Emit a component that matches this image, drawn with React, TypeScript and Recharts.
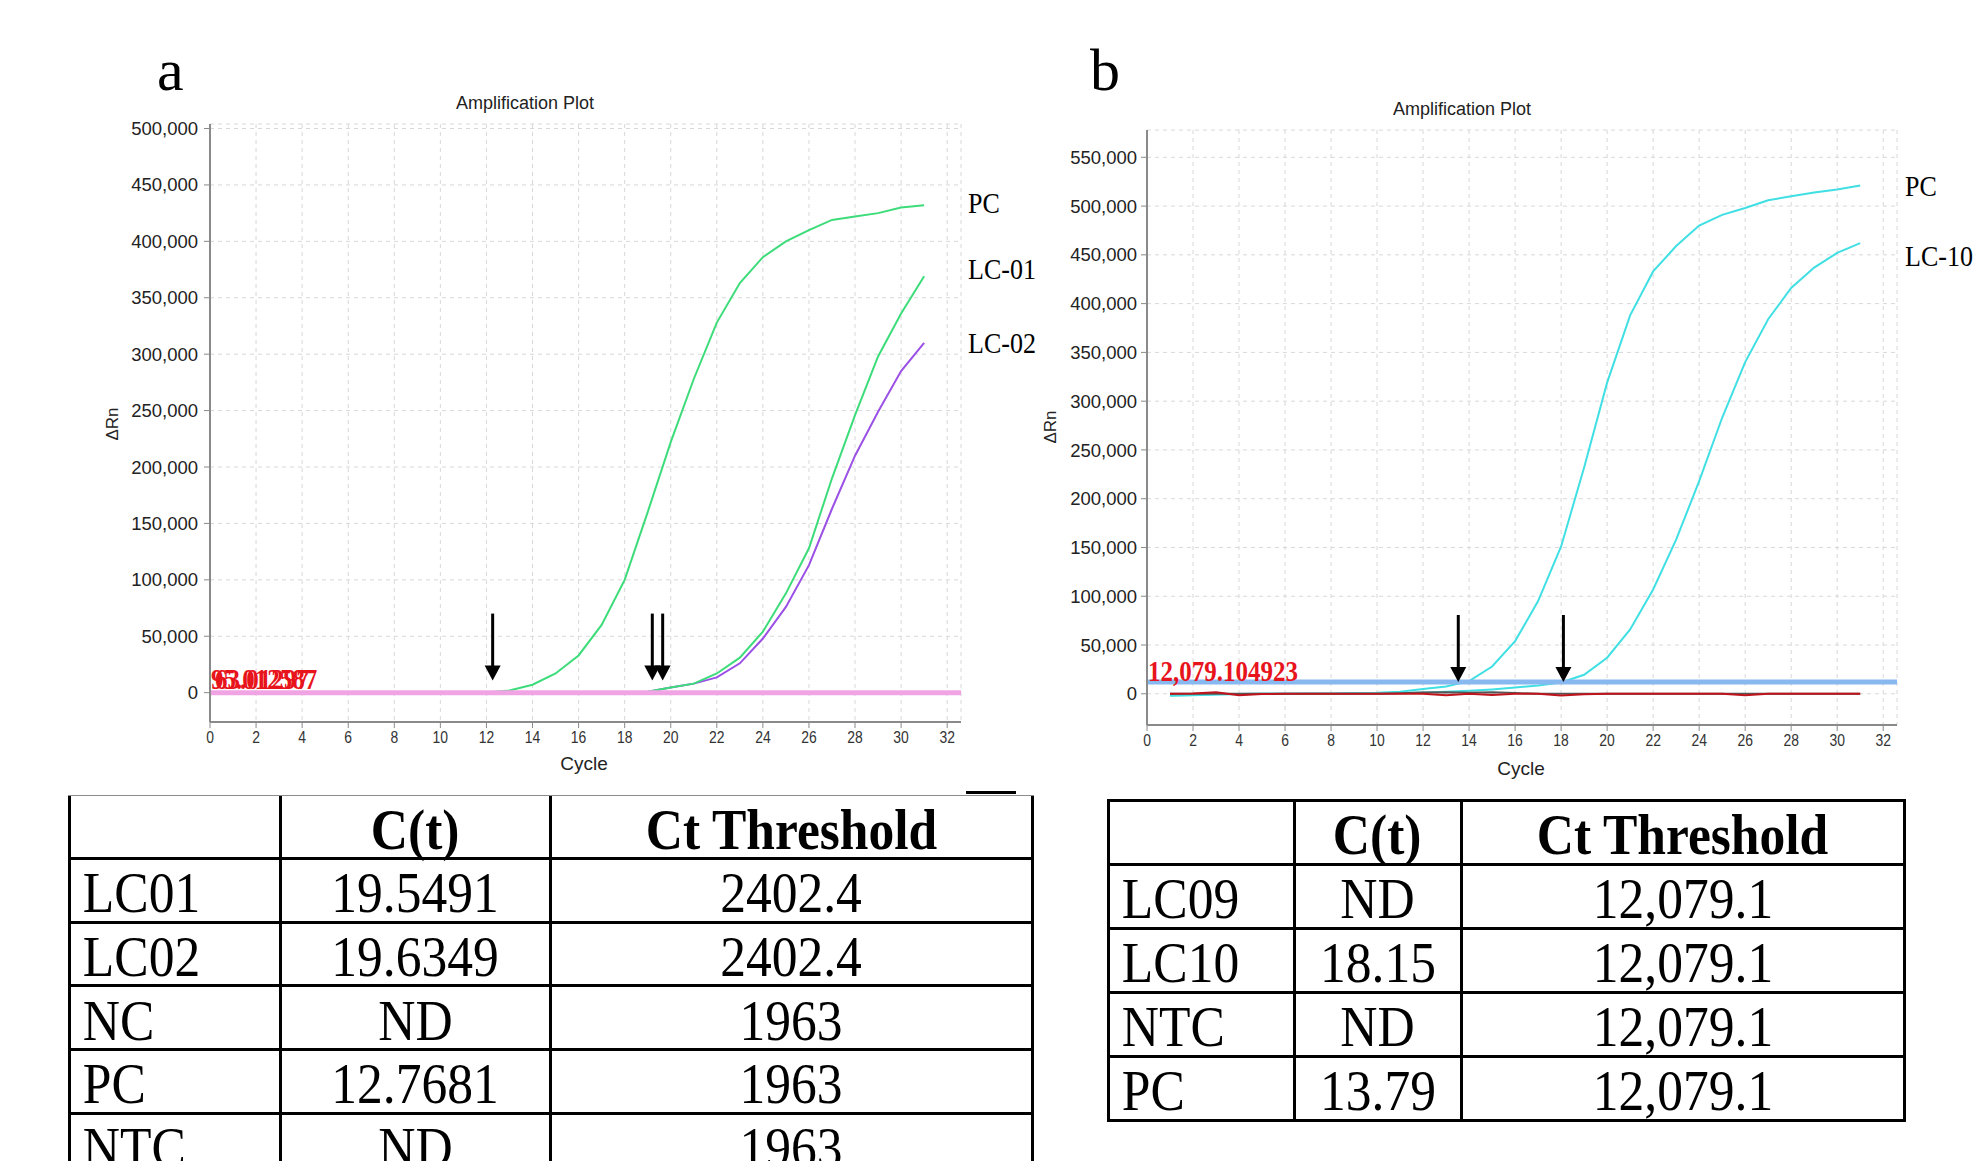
import React from 'react';
import { LineChart, Line, XAxis, YAxis, CartesianGrid, ReferenceLine, ReferenceDot } from 'recharts';

// ---- shared axis values ----
const CYCLES = [1, 2, 3, 4, 5, 6, 7, 8, 9, 10, 11, 12, 13, 14, 15, 16, 17, 18, 19, 20, 21, 22, 23, 24, 25, 26, 27, 28, 29, 30, 31];
const X_TICKS = [0, 2, 4, 6, 8, 10, 12, 14, 16, 18, 20, 22, 24, 26, 28, 30, 32];
const X_DOMAIN = [0, 32.6];

// ---- panel a ----
const A_Y_TICKS = [0, 50000, 100000, 150000, 200000, 250000, 300000, 350000, 400000, 450000, 500000];
const A_Y_DOMAIN = [-26000, 504000];
const PC_A = [0, 0, 0, 0, 0, 0, 0, 0, 0, 0, 0, 200, 2000, 7000, 17000, 33000, 60000, 100000, 160000, 222000, 278000, 328000, 363000, 386000, 400000, 410000, 419000, 422000, 425000, 430000, 432000];
const LC01_A = [0, 0, 0, 0, 0, 0, 0, 0, 0, 0, 0, 0, 0, 0, 0, 0, 0, 0, 800, 4500, 8000, 17000, 31000, 54000, 88000, 128000, 190000, 246000, 298000, 336000, 369000];
const LC02_A = [0, 0, 0, 0, 0, 0, 0, 0, 0, 0, 0, 0, 0, 0, 0, 0, 0, 0, 800, 4500, 8000, 13500, 26000, 48000, 76000, 113000, 163000, 210000, 249000, 285000, 310000];
const THRESHOLD_A = 0;
const THRESHOLD_A_LABELS = ['95.012587', '63.01297'];
const ARROWS_A = [12.27, 19.2, 19.65];
const ARROW_TIP_A = 10700;

// ---- panel b ----
const B_Y_TICKS = [0, 50000, 100000, 150000, 200000, 250000, 300000, 350000, 400000, 450000, 500000, 550000];
const B_Y_DOMAIN = [-32000, 578000];
const PC_B = [-2000, -1500, -800, -300, 0, 0, 200, 400, 700, 1000, 2000, 4800, 7500, 13000, 28000, 54000, 95000, 151000, 232000, 319000, 388000, 433000, 459000, 480000, 491000, 498000, 506000, 510000, 514000, 517000, 521000];
const LC10_B = [-1500, -1200, -600, -200, 0, 0, 0, 100, 200, 400, 700, 1200, 2000, 3000, 4500, 6500, 8500, 11500, 19500, 37000, 66000, 107000, 158000, 218000, 283000, 340000, 384000, 416000, 437000, 452000, 462000];
const NTC_B = [0, 300, 1500, -1500, -300, 0, 0, 0, 0, 0, 0, 0, -1500, 0, -1200, 0, 0, -1800, -600, 0, 0, 0, 0, 0, 0, -1500, 0, 0, 0, 0, 0];
const LC09_B = [0, 0, 0, 0, 0, 0, 0, 0, 0, 0, 500, 1200, 1500, 1000, 1500, 800, 0, 0, 0, 0, 0, 0, 0, 0, 0, 0, 0, 0, 0, 0, 0];
const THRESHOLD_B = 12079.104923;
const THRESHOLD_B_LABELS = ['12,079.104923'];
const ARROWS_B = [13.53, 18.1];

// ---- tables ----
const TABLE_HEADER = ['', 'C(t)', 'Ct Threshold'];
const TABLE_A_ROWS = [
  ['LC01', '19.5491', '2402.4'],
  ['LC02', '19.6349', '2402.4'],
  ['NC', 'ND', '1963'],
  ['PC', '12.7681', '1963'],
  ['NTC', 'ND', '1963'],
];
const TABLE_B_ROWS = [
  ['LC09', 'ND', '12,079.1'],
  ['LC10', '18.15', '12,079.1'],
  ['NTC', 'ND', '12,079.1'],
  ['PC', '13.79', '12,079.1'],
];

const dataA = CYCLES.map((cycle, i) => ({ cycle, pc: PC_A[i], lc01: LC01_A[i], lc02: LC02_A[i] }));
const dataB = CYCLES.map((cycle, i) => ({ cycle, pc: PC_B[i], lc10: LC10_B[i], ntc: NTC_B[i], lc09: LC09_B[i] }));

const SANS = 'Liberation Sans, Arial, sans-serif';
const SERIF = 'Liberation Serif, Times New Roman, serif';
const fmt = (v: number) => v.toLocaleString('en-US');

const XTick = ({ x, y, payload }: any) => (
  <g transform={`translate(${x},${y})`}>
    <text x={0} y={0} dy={13} textAnchor="middle" fontSize={17} fill="#333" fontFamily={SANS} transform="scale(0.82,1)">
      {payload.value}
    </text>
  </g>
);

const Arrow = (props: any) => {
  const { cx, cy } = props;
  if (cx == null || cy == null) return null;
  return (
    <g>
      <line x1={cx} y1={cy - 67} x2={cx} y2={cy - 12} stroke="#000" strokeWidth={3} />
      <polygon points={`${cx - 8},${cy - 15} ${cx + 8},${cy - 15} ${cx},${cy}`} fill="#000" />
    </g>
  );
};

// overlapping red threshold values, as the instrument software prints them
const ThresholdLabel = ({ viewBox, texts, dy, fontSize }: any) => {
  if (!viewBox) return null;
  return (
    <g>
      {texts.map((t: string, i: number) => (
        <text key={i} x={viewBox.x + 1 + i * 4} y={viewBox.y + dy} fontSize={fontSize} fontWeight="bold" fontFamily={SERIF} fill="#e8141c" transform={`translate(${viewBox.x + 1},${viewBox.y + dy}) scale(1,1.15) translate(${-(viewBox.x + 1)},${-(viewBox.y + dy)})`}>
          {t}
        </text>
      ))}
    </g>
  );
};

const frameAxes = (yDomain: number[]) => [
  <XAxis key="top" xAxisId="top" orientation="top" type="number" domain={X_DOMAIN} ticks={[]} tick={false} tickLine={false} height={0} axisLine={{ stroke: '#b8b8b8', strokeWidth: 2 }} />,
  <YAxis key="right" yAxisId="right" orientation="right" type="number" domain={yDomain} ticks={[]} tick={false} tickLine={false} width={0} axisLine={{ stroke: '#b8b8b8', strokeWidth: 2 }} />,
];

function PanelA() {
  return (
    <LineChart width={1000} height={800} data={dataA} margin={{ top: 124, right: 39, bottom: 38, left: 130 }}>
      <CartesianGrid strokeDasharray="4 4" stroke="#d8d8d8" />
      <XAxis dataKey="cycle" type="number" domain={X_DOMAIN} ticks={X_TICKS} allowDataOverflow height={40} tickSize={6} tickMargin={2} tick={<XTick />} axisLine={{ stroke: '#8a8a8a', strokeWidth: 2 }} tickLine={{ stroke: '#8a8a8a' }} />
      <YAxis type="number" domain={A_Y_DOMAIN} ticks={A_Y_TICKS} allowDataOverflow width={80} tickSize={6} tickMargin={6} tickFormatter={fmt} tick={{ fontSize: 18.5, fill: '#222', fontFamily: SANS }} axisLine={{ stroke: '#8a8a8a', strokeWidth: 2 }} tickLine={{ stroke: '#8a8a8a' }} />
      {frameAxes(A_Y_DOMAIN)}
      <Line dataKey="pc" type="linear" stroke="#3ddc7a" strokeWidth={2} dot={false} isAnimationActive={false} />
      <Line dataKey="lc02" type="linear" stroke="#9b50e6" strokeWidth={2} dot={false} isAnimationActive={false} />
      <Line dataKey="lc01" type="linear" stroke="#3ddc7a" strokeWidth={2} dot={false} isAnimationActive={false} />
      <ReferenceLine y={THRESHOLD_A} stroke="#f0a4e4" strokeWidth={5} label={<ThresholdLabel texts={THRESHOLD_A_LABELS} dy={-4} fontSize={25} />} />
      {ARROWS_A.map((x) => (
        <ReferenceDot key={x} x={x} y={ARROW_TIP_A} r={0} ifOverflow="visible" shape={<Arrow />} />
      ))}
    </LineChart>
  );
}

function PanelB() {
  return (
    <LineChart width={977} height={800} data={dataB} margin={{ top: 130, right: 80, bottom: 35, left: 67 }}>
      <CartesianGrid strokeDasharray="4 4" stroke="#d8d8d8" />
      <XAxis dataKey="cycle" type="number" domain={X_DOMAIN} ticks={X_TICKS} allowDataOverflow height={40} tickSize={6} tickMargin={2} tick={<XTick />} axisLine={{ stroke: '#8a8a8a', strokeWidth: 2 }} tickLine={{ stroke: '#8a8a8a' }} />
      <YAxis type="number" domain={B_Y_DOMAIN} ticks={B_Y_TICKS} allowDataOverflow width={80} tickSize={6} tickMargin={4} tickFormatter={fmt} tick={{ fontSize: 18.5, fill: '#222', fontFamily: SANS }} axisLine={{ stroke: '#8a8a8a', strokeWidth: 2 }} tickLine={{ stroke: '#8a8a8a' }} />
      {frameAxes(B_Y_DOMAIN)}
      <Line dataKey="lc10" type="linear" stroke="#40dfe3" strokeWidth={2} dot={false} isAnimationActive={false} />
      <Line dataKey="pc" type="linear" stroke="#40dfe3" strokeWidth={2} dot={false} isAnimationActive={false} />
      <Line dataKey="lc09" type="linear" stroke="#555555" strokeWidth={2} dot={false} isAnimationActive={false} />
      <Line dataKey="ntc" type="linear" stroke="#c0141c" strokeWidth={2} dot={false} isAnimationActive={false} />
      <ReferenceLine y={THRESHOLD_B} stroke="#88b8f0" strokeWidth={5} label={<ThresholdLabel texts={THRESHOLD_B_LABELS} dy={-1} fontSize={25} />} />
      {ARROWS_B.map((x) => (
        <ReferenceDot key={x} x={x} y={THRESHOLD_B} r={0} ifOverflow="visible" shape={<Arrow />} />
      ))}
    </LineChart>
  );
}

function DataTable({ left, top, cols, rowH, rows, topThin }: any) {
  const all = [TABLE_HEADER, ...rows];
  const height = rowH * all.length;
  const lines: any[] = [];
  cols.forEach((cx: number, i: number) => {
    lines.push(<div key={'v' + i} style={{ position: 'absolute', left: cx - 1.5, top: 0, width: 3, height: height + 1.5, background: '#000' }} />);
  });
  for (let k = 0; k <= all.length; k++) {
    const thin = k === 0 && topThin;
    lines.push(
      <div key={'h' + k} style={{ position: 'absolute', left: cols[0] - 1.5, top: k * rowH - (thin ? 0.5 : 1.5), width: cols[cols.length - 1] - cols[0] + 3, height: thin ? 1 : 3, background: thin ? '#8c8c8c' : '#000' }} />
    );
  }
  return (
    <div style={{ position: 'absolute', left, top, width: cols[cols.length - 1], height }}>
      {all.map((r: string[], ri: number) =>
        r.map((t: string, ci: number) => (
          <div key={ri + '-' + ci} style={{ position: 'absolute', left: cols[ci], top: ri * rowH, width: cols[ci + 1] - cols[ci], height: rowH, display: 'flex', alignItems: 'center', justifyContent: ci === 0 ? 'flex-start' : 'center', paddingTop: 6, boxSizing: 'border-box', fontFamily: SERIF, fontSize: 56, fontWeight: ri === 0 ? 'bold' : 'normal', color: '#000', lineHeight: 1 }}>
            <span style={{ display: 'inline-block', transform: 'scaleX(0.92)', transformOrigin: ci === 0 ? 'left center' : 'center', paddingLeft: ci === 0 ? 15 : 0, whiteSpace: 'nowrap' }}>{t}</span>
          </div>
        ))
      )}
      {lines}
    </div>
  );
}

export default function App() {
  return (
    <div style={{ position: 'fixed', left: 0, top: 0, width: 1977, height: 1161, background: '#fff', overflow: 'hidden' }}>
      <div style={{ position: 'absolute', left: 0, top: 0 }}>
        <PanelA />
      </div>
      <div style={{ position: 'absolute', left: 1000, top: 0 }}>
        <PanelB />
      </div>
      <svg width={1977} height={1161} style={{ position: 'absolute', left: 0, top: 0, pointerEvents: 'none' }}>
        <text x={157} y={90} fontSize={60} fontFamily={SERIF}>a</text>
        <text x={1090} y={90} fontSize={60} fontFamily={SERIF}>b</text>
        <text x={525} y={109} fontSize={18} fontFamily={SANS} textAnchor="middle" fill="#222">Amplification Plot</text>
        <text x={1462} y={115} fontSize={18} fontFamily={SANS} textAnchor="middle" fill="#222">Amplification Plot</text>
        <text x={584} y={770} fontSize={19} fontFamily={SANS} textAnchor="middle" fill="#222">Cycle</text>
        <text x={1521} y={775} fontSize={19} fontFamily={SANS} textAnchor="middle" fill="#222">Cycle</text>
        <text transform="translate(118,424) rotate(-90)" fontSize={17} fontFamily={SANS} textAnchor="middle" fill="#222">ΔRn</text>
        <text transform="translate(1056,427) rotate(-90)" fontSize={17} fontFamily={SANS} textAnchor="middle" fill="#222">ΔRn</text>
        <text transform="translate(968,212.5) scale(1,1.1)" fontSize={26} fontFamily={SERIF}>PC</text>
        <text transform="translate(968,278.5) scale(1,1.1)" fontSize={26} fontFamily={SERIF}>LC-01</text>
        <text transform="translate(968,352.5) scale(1,1.1)" fontSize={26} fontFamily={SERIF}>LC-02</text>
        <text transform="translate(1905,196) scale(1,1.1)" fontSize={26} fontFamily={SERIF}>PC</text>
        <text transform="translate(1905,266) scale(1,1.1)" fontSize={26} fontFamily={SERIF}>LC-10</text>
      </svg>
      <DataTable left={69} top={795} cols={[0, 211, 481, 963]} rowH={63.6} rows={TABLE_A_ROWS} topThin />
      <div style={{ position: 'absolute', left: 966, top: 791, width: 50, height: 3, background: '#000' }} />
      <DataTable left={1108} top={800} cols={[0, 186, 353, 796]} rowH={64.1} rows={TABLE_B_ROWS} />
    </div>
  );
}
